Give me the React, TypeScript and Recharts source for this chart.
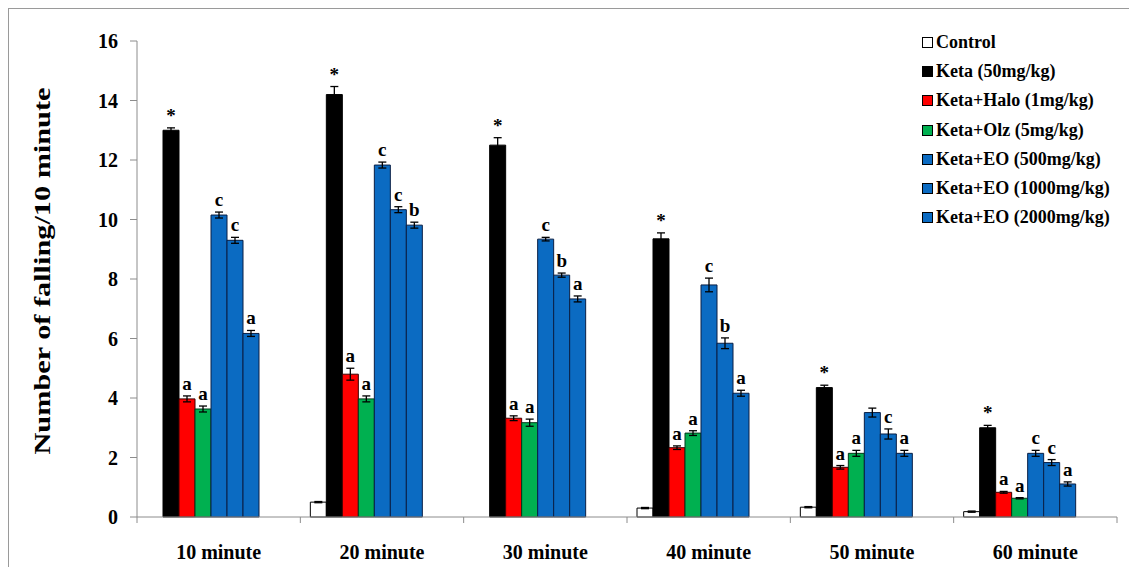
import { BarChart, Bar, XAxis, YAxis, ErrorBar, LabelList, Legend, Label } from 'recharts';

const categories = ['10 minute', '20 minute', '30 minute', '40 minute', '50 minute', '60 minute'];

const control = [0, 0.5, 0, 0.3, 0.33, 0.18];
const controlErr = [0, 0.02, 0, 0.02, 0.02, 0.02];
const keta = [13.0, 14.2, 12.5, 9.35, 4.35, 3.0];
const ketaErr = [0.08, 0.27, 0.25, 0.2, 0.08, 0.08];
const halo = [3.97, 4.8, 3.32, 2.33, 1.67, 0.83];
const haloErr = [0.1, 0.2, 0.08, 0.06, 0.06, 0.03];
const olz = [3.63, 3.97, 3.17, 2.82, 2.14, 0.63];
const olzErr = [0.1, 0.1, 0.12, 0.08, 0.1, 0.02];
const eo500 = [10.15, 11.83, 9.34, 7.8, 3.51, 2.14];
const eo500Err = [0.1, 0.1, 0.06, 0.23, 0.15, 0.1];
const eo1000 = [9.3, 10.33, 8.13, 5.84, 2.79, 1.83];
const eo1000Err = [0.1, 0.1, 0.07, 0.18, 0.17, 0.1];
const eo2000 = [6.17, 9.81, 7.33, 4.16, 2.14, 1.11];
const eo2000Err = [0.1, 0.1, 0.1, 0.1, 0.1, 0.07];

const ketaSig = ['*', '*', '*', '*', '*', '*'];
const haloSig = ['a', 'a', 'a', 'a', 'a', 'a'];
const olzSig = ['a', 'a', 'a', 'a', 'a', 'a'];
const eo500Sig = ['c', 'c', 'c', 'c', '', 'c'];
const eo1000Sig = ['c', 'c', 'b', 'b', 'c', 'c'];
const eo2000Sig = ['a', 'b', 'a', 'a', 'a', 'a'];

const yTicks = [0, 2, 4, 6, 8, 10, 12, 14, 16];

const FONT = '"Liberation Serif", "Times New Roman", serif';
const BLUE = '#0b6bc2';
const AXIS = '#8c8c8c';

const series = [
  { key: 'control', name: 'Control', fill: '#ffffff', stroke: '#000000', values: control, errs: controlErr, sig: null },
  { key: 'keta', name: 'Keta (50mg/kg)', fill: '#000000', stroke: '#000000', values: keta, errs: ketaErr, sig: ketaSig },
  { key: 'halo', name: 'Keta+Halo (1mg/kg)', fill: '#ff0000', stroke: '#3a0000', values: halo, errs: haloErr, sig: haloSig },
  { key: 'olz', name: 'Keta+Olz (5mg/kg)', fill: '#00b050', stroke: '#003a1a', values: olz, errs: olzErr, sig: olzSig },
  { key: 'eo500', name: 'Keta+EO (500mg/kg)', fill: BLUE, stroke: '#0a1f45', values: eo500, errs: eo500Err, sig: eo500Sig },
  { key: 'eo1000', name: 'Keta+EO (1000mg/kg)', fill: BLUE, stroke: '#0a1f45', values: eo1000, errs: eo1000Err, sig: eo1000Sig },
  { key: 'eo2000', name: 'Keta+EO (2000mg/kg)', fill: BLUE, stroke: '#0a1f45', values: eo2000, errs: eo2000Err, sig: eo2000Sig },
];

const data = categories.map((name, i) => {
  const row: Record<string, any> = { name };
  series.forEach((s) => {
    row[s.key] = s.values[i];
    row[s.key + 'Err'] = s.errs[i];
    if (s.sig) row[s.key + 'Sig'] = s.sig[i];
  });
  return row;
});

function sigLabel(s: any) {
  return (p: any) => {
    const { x, y, width, height, value, index } = p;
    if (!value) return null;
    const v = s.values[index];
    const errPx = v ? (s.errs[index] / v) * height : 0;
    return (
      <text
        x={x + width / 2}
        y={y - errPx - 6}
        textAnchor="middle"
        fontFamily={FONT}
        fontWeight="bold"
        fontSize={19}
        fill="#000"
      >
        {value}
      </text>
    );
  };
}

// category label at the band centre, tick marks on the band edges
function XTick(props: any) {
  const { x, y, payload, width, visibleTicksCount, index } = props;
  const half = width / visibleTicksCount / 2;
  return (
    <g>
      <line x1={x - half} y1={y} x2={x - half} y2={y + 6} stroke={AXIS} />
      {index === visibleTicksCount - 1 && <line x1={x + half} y1={y} x2={x + half} y2={y + 6} stroke={AXIS} />}
      <text x={x} y={y + 42} textAnchor="middle" fontFamily={FONT} fontWeight="bold" fontSize={20} fill="#000">
        {payload.value}
      </text>
    </g>
  );
}

function LegendBox() {
  return (
    <div style={{ fontFamily: FONT, fontWeight: 'bold', fontSize: 18, color: '#000' }}>
      {series.map((s) => (
        <div key={s.key} style={{ display: 'flex', alignItems: 'center', height: 29.2, whiteSpace: 'nowrap' }}>
          <span
            style={{
              display: 'inline-block',
              width: 9,
              height: 9,
              background: s.fill,
              border: '1px solid #000',
              marginRight: 3,
            }}
          />
          <span>{s.name}</span>
        </div>
      ))}
    </div>
  );
}

function YTitle(props: any) {
  const vb = props.viewBox;
  const cx = vb.x + 33;
  const cy = vb.y + vb.height / 2 - 8;
  return (
    <text
      x={cx}
      y={cy}
      transform={`rotate(-90 ${cx} ${cy})`}
      textAnchor="middle"
      dominantBaseline="central"
      fontFamily={FONT}
      fontWeight="bold"
      fontSize={24}
      textLength={367}
      lengthAdjust="spacingAndGlyphs"
      fill="#000"
    >
      Number of falling/10 minute
    </text>
  );
}

export default function App() {
  return (
    <div
      style={{
        width: 1129,
        height: 559,
        borderTop: '1px solid #9a9a9a',
        borderLeft: '1px solid #9a9a9a',
        background: '#fff',
      }}
    >
      <BarChart
        width={1128}
        height={558}
        data={data}
        margin={{ top: 32, right: 20, left: 0, bottom: 0 }}
        barCategoryGap={10}
        barGap={0}
      >
        <XAxis
          dataKey="name"
          height={50}
          axisLine={{ stroke: AXIS }}
          tickLine={false}
          tickSize={0}
          tickMargin={0}
          tick={<XTick />}
          interval={0}
        />
        <YAxis
          width={128}
          domain={[0, 16]}
          ticks={yTicks}
          tickSize={7}
          tickMargin={12}
          axisLine={{ stroke: AXIS }}
          tickLine={{ stroke: AXIS }}
          tick={{ fontFamily: FONT, fontWeight: 'bold', fontSize: 20, fill: '#000' }}
        >
          <Label content={<YTitle />} />
        </YAxis>
        <Legend
          layout="vertical"
          align="center"
          verticalAlign="middle"
          content={<LegendBox />}
          wrapperStyle={{ left: 913, top: 19, width: 215 }}
        />
        {series.map((s) => (
          <Bar
            key={s.key}
            dataKey={s.key}
            name={s.name}
            fill={s.fill}
            stroke={s.stroke}
            strokeWidth={1}
            isAnimationActive={false}
          >
            <ErrorBar dataKey={s.key + 'Err'} width={4} stroke="#000" strokeWidth={1.3} direction="y" />
            {s.sig && <LabelList dataKey={s.key + 'Sig'} content={sigLabel(s)} />}
          </Bar>
        ))}
        <Bar dataKey="spacerA" legendType="none" isAnimationActive={false} />
        <Bar dataKey="spacerB" legendType="none" isAnimationActive={false} />
      </BarChart>
    </div>
  );
}
